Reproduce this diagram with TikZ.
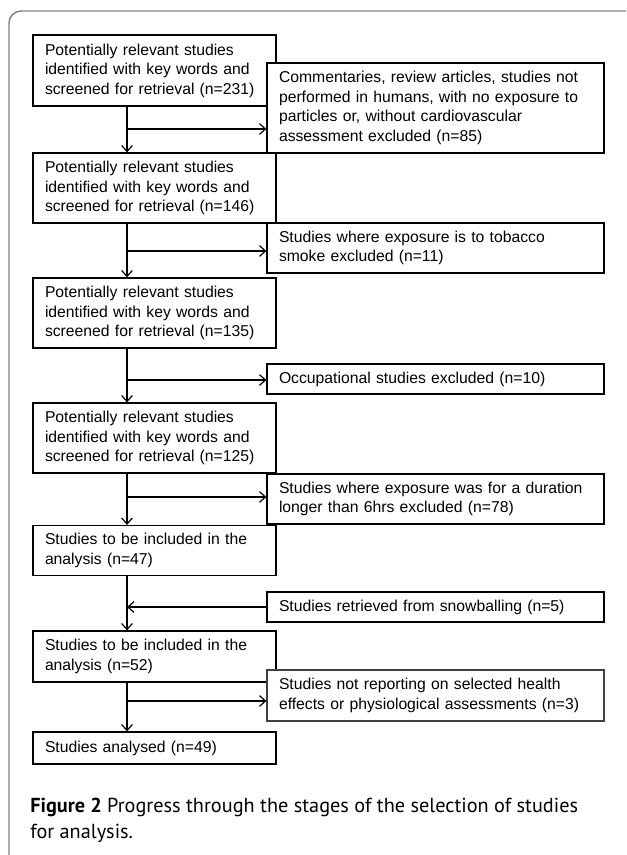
\documentclass[tikz,border=0pt]{standalone}
\usepackage{fontspec}
\setmainfont{Liberation Sans}
\newfontfamily\capfont{PT Sans}
\usetikzlibrary{arrows.meta}
\begin{document}
\begin{tikzpicture}[x=0.75pt,y=-0.75pt,
  box/.style={draw=black, line width=0.9pt, fill=white,
    minimum width=182.25pt, text width=164.25pt, inner xsep=9pt, inner ysep=0pt,
    align=left, font=\fontsize{11.8}{14.6}\selectfont},
  exbox/.style={box, minimum width=252.75pt, text width=234.75pt},
  arr/.style={line width=0.9pt, -{Straight Barb[length=4.5pt,width=8pt]}},
  capline/.style={anchor=base west, inner sep=0pt, font=\capfont\fontsize{15.2}{19.5}\selectfont}]
\useasboundingbox (0,0) rectangle (626,855);
\fill[white] (0,0) rectangle (626,855);
\draw[gray, line width=1.1pt, rounded corners=9pt] (9,855) -- (9,11) -- (626,11);
% main column
\node[box, minimum height=53.25pt] (b1) at (154.5,70.5) {Potentially relevant studies\\identified with key words and\\screened for retrieval (n=231)};
\node[box, minimum height=52.5pt] (b2) at (154.5,188) {Potentially relevant studies\\identified with key words and\\screened for retrieval (n=146)};
\node[box, minimum height=52.5pt] (b3) at (154.5,313) {Potentially relevant studies\\identified with key words and\\screened for retrieval (n=135)};
\node[box, minimum height=52.5pt] (b4) at (154.5,438) {Potentially relevant studies\\identified with key words and\\screened for retrieval (n=125)};
\node[box, minimum height=37.5pt] (b5) at (154.5,550.5) {Studies to be included in the\\analysis (n=47)};
\node[box, minimum height=38.25pt] (b6) at (154.5,656.5) {Studies to be included in the\\analysis (n=52)};
\node[box, minimum height=24pt] (b7) at (154.5,748) {Studies analysed (n=49)};
% side column
\node[exbox, minimum height=67.5pt] (e1) at (435.5,108) {Commentaries, review articles, studies not\\performed in humans, with no exposure to\\particles or, without cardiovascular\\assessment excluded (n=85)};
\node[exbox, minimum height=37.5pt] (e2) at (435.5,248) {Studies where exposure is to tobacco\\smoke excluded (n=11)};
\node[exbox, minimum height=22.5pt] (e3) at (435.5,379) {Occupational studies excluded (n=10)};
\node[exbox, minimum height=37.5pt] (e4) at (435.5,499) {Studies where exposure was for a duration\\longer than 6hrs excluded (n=78)};
\node[exbox, minimum height=22.5pt] (s5) at (435.5,607) {Studies retrieved from snowballing (n=5)};
\node[exbox, minimum height=38.25pt, draw=black!75] (e6) at (435.5,695.5) {Studies not reporting on selected health\\effects or physiological assessments (n=3)};
% junctions on the main line
\coordinate (j1) at (127,129);
\coordinate (j2) at (127,251);
\coordinate (j3) at (127,380);
\coordinate (j4) at (127,497);
\coordinate (j5) at (127,607);
\coordinate (j6) at (127,701);
% vertical arrows
\draw[arr] (b1.south -| j1) -- (b2.north -| j1);
\draw[arr] (b2.south -| j2) -- (b3.north -| j2);
\draw[arr] (b3.south -| j3) -- (b4.north -| j3);
\draw[arr] (b4.south -| j4) -- (b5.north -| j4);
\draw[arr] (b5.south -| j5) -- (b6.north -| j5);
\draw[arr] (b6.south -| j6) -- (b7.north -| j6);
% side arrows
\draw[arr] (j1) -- (j1 -| e1.west);
\draw[arr] (j2) -- (j2 -| e2.west);
\draw[arr] (j3) -- (j3 -| e3.west);
\draw[arr] (j4) -- (j4 -| e4.west);
\draw[arr] (j5 -| s5.west) -- (j5);
\draw[arr] (j6) -- (j6 -| e6.west);
% caption
\node[capline] (cap1) at (30,812) {\textbf{Figure 2} Progress through the stages of the selection of studies};
\node[capline] (cap2) at (30,838) {for analysis.};
\end{tikzpicture}
\end{document}
